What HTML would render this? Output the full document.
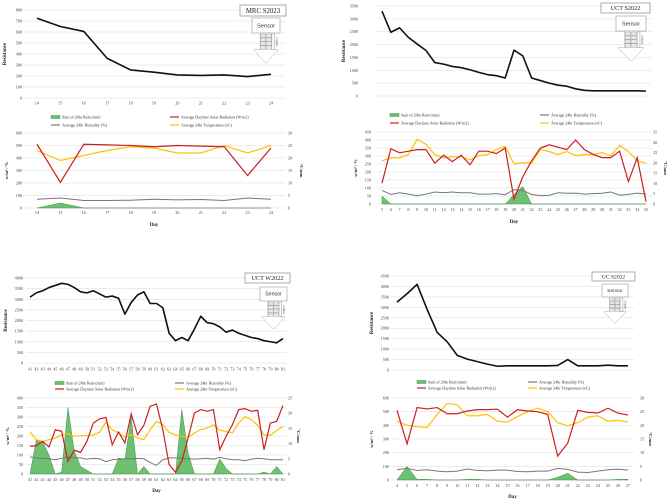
<!DOCTYPE html>
<html><head><meta charset="utf-8"><style>
html,body{margin:0;padding:0;background:#fff;}
svg{display:block;font-family:"Liberation Serif",serif;}
</style></head><body>
<svg id="fig" width="669" height="501" viewBox="0 0 669 501" xmlns="http://www.w3.org/2000/svg"></svg>
<script>
// ---------- DATA ----------
const mrcDays=[14,15,16,17,18,19,20,21,22,23,24];
const mrcRes=[725,650,605,360,255,235,210,205,210,195,215];
const mrcSolar=[510,205,510,505,500,490,500,495,490,260,480];
const mrcTemp=[23,19,21,23,24.5,24,22,22,25,22,25];
const mrcHum=[70,80,60,60,62,70,65,68,60,80,70];
const mrcRain=[0,40,0,0,0,0,0,0,0,0,0];

const s22Days=[5,6,7,8,9,10,11,12,13,14,15,16,17,18,19,20,21,22,23,24,25,26,27,28,29,30,31,32,33,34,35];
const s22Res=[3300,2480,2650,2280,2020,1770,1300,1240,1150,1100,1020,920,830,790,700,1780,1560,700,600,500,420,380,280,220,200,200,200,200,200,200,190];
const s22Solar=[130,345,320,330,340,340,255,305,265,305,245,330,330,315,350,30,170,270,350,370,355,340,400,340,310,290,290,330,140,290,15];
const s22Temp=[21,22.5,22.5,24,31.5,29,24,22.5,23,23,21.5,23.5,24,26.5,28,19.5,20,20,26.5,25.5,24,25.5,23.5,24,24,25,23.5,28.5,25.5,21,19.8];
const s22Hum=[85,60,70,62,52,62,75,70,75,70,70,62,62,65,58,90,85,60,52,55,70,67,68,62,65,67,75,55,60,68,62];
const s22Rain=[50,0,0,0,0,0,0,0,0,0,0,0,0,0,0,60,110,0,0,0,0,0,0,0,0,0,0,0,0,0,0];

const w22Days=[41,42,43,44,45,46,47,48,49,50,51,52,53,54,55,56,57,58,59,60,61,62,63,64,65,66,67,68,69,70,71,72,73,74,75,76,77,78,79,80,81];
const w22Res=[3100,3300,3400,3550,3650,3750,3700,3550,3350,3300,3400,3250,3100,3150,3050,2300,2850,3200,3350,2800,2800,2600,1400,1050,1200,1050,1600,2200,1900,1850,1700,1450,1550,1400,1300,1200,1150,1050,1000,950,1150];
const w22Solar=[146,149,172,142,233,225,67,125,114,172,268,290,298,154,221,163,316,207,256,356,368,233,49,9,67,190,321,339,330,339,128,198,260,339,344,330,335,128,268,277,361];
const w22Temp=[13.8,11.3,10.7,11.3,11.8,12.9,13.3,12.4,12.6,12.6,12.9,13.7,17.1,14.6,13.5,12.1,13,11.8,11.3,14.6,17.3,16.2,13.7,12.9,12.4,12.1,13.5,14.6,15.1,16.2,14.4,14,13.5,16.8,18.8,17.9,16,12.9,12.7,14.3,15.7];
const w22Hum=[90,85,82,80,75,82,90,85,85,78,82,80,65,75,78,80,80,82,80,60,45,75,85,85,82,80,78,80,82,78,88,80,75,75,70,78,82,80,75,75,75];
const w22Rain=[0,180,170,100,0,10,350,120,40,20,0,0,0,0,85,75,300,0,40,0,0,0,0,0,340,110,0,0,0,0,80,30,0,0,0,0,0,10,0,40,0];

const ucDays=[4,5,6,7,8,9,10,11,12,13,14,15,16,17,18,19,20,21,22,23,24,25,26,27];
const ucRes=[3250,3650,4100,2900,1800,1350,700,520,400,280,180,200,200,200,200,200,220,500,200,200,200,230,200,200];
const ucSolar=[510,265,530,520,530,485,485,505,515,515,518,460,515,505,500,480,175,270,510,495,490,525,490,475];
const ucTemp=[21.5,20,19.5,19.2,24,28,27.5,23.5,23.5,24,21.5,21.2,23.2,25,26.3,25,21,19.8,21,23,23.5,21.5,21.8,21.2];
const ucHum=[75,85,70,75,65,60,65,80,70,68,72,72,62,60,65,65,85,78,58,55,65,75,80,72];
const ucRain=[0,100,5,5,0,0,0,5,5,0,0,0,0,0,0,0,20,50,0,0,0,0,5,5];

// ---------- DRAW ----------
const NS="http://www.w3.org/2000/svg";
const svg=document.getElementById('fig');
function mk(tag,attrs,parent,txt){const e=document.createElementNS(NS,tag);for(const k in attrs)e.setAttribute(k,attrs[k]);if(txt!==undefined)e.textContent=txt;(parent||svg).appendChild(e);return e;}

function panel(id,cfg,days,res,solar,temp,hum,rain){
  const g=mk('g',{});
  
  
  const n=days.length;
  const xs=i=>cfg.x0+(cfg.x1-cfg.x0)*i/(n-1);
  const step=(cfg.x1-cfg.x0)/(n-1);
  const gx0=cfg.x0-step*0.6, gx1=cfg.x1+step*0.6;
  const T=cfg.top;
  const yT=v=>T.yBot-(T.yBot-T.yTop)*v/T.max;
  for(let v=0;v<=T.max;v+=T.step){
    const gl=mk('line',{x1:gx0,x2:gx1,y1:yT(v),y2:yT(v),stroke:'#d9d9d9','stroke-width':0.5},g);
    
    
    const t=mk('text',{x:T.labelX,y:yT(v)+1.5,'font-size':4.2,'text-anchor':'end',fill:'#444'},g,String(v));
    
    
  }
  const yl=mk('text',{transform:`translate(${T.titleX},${(T.yTop+T.yBot)/2}) rotate(-90)`,'font-size':5,'font-weight':'bold','text-anchor':'middle',fill:'#222'},g,'Resistance');
  
  
  if(T.xlabY){days.forEach((d,i)=>{const t=mk('text',{x:xs(i),y:T.xlabY,'font-size':4.2,'text-anchor':'middle',fill:'#444'},g,String(d));
    
    });}
  const rl=mk('polyline',{points:res.map((v,i)=>xs(i)+','+yT(v)).join(' '),fill:'none',stroke:'#111','stroke-width':1.6,'stroke-linejoin':'round'},g);
  
  
  const tb=cfg.title;
  const tr=mk('rect',{x:tb.x,y:tb.y,width:tb.w,height:tb.h,fill:'#fff',stroke:'#888','stroke-width':0.7},g);
  
  
  const tt=mk('text',{x:tb.x+tb.w/2,y:tb.y+tb.h*0.72,'font-size':tb.h*0.62,'text-anchor':'middle',fill:'#222'},g,tb.text);
  
  
  const s=cfg.sensor;
  const sr=mk('rect',{x:s.x,y:s.y,width:s.w,height:s.h,fill:'#fff',stroke:'#999','stroke-width':0.6},g);
  
  
  const st=mk('text',{x:s.x+s.w/2,y:s.y+s.h*0.62,'font-size':s.h*0.38,'text-anchor':'middle','font-family':'Liberation Sans, sans-serif',fill:'#333'},g,'Sensor');
  
  
  const cx=s.x+s.w/2, aw=s.w*0.55, gy=s.y+s.h+1, gh=s.h*1.05;
  const ar=mk('polygon',{points:`${cx-aw*0.38},${s.y+s.h} ${cx+aw*0.38},${s.y+s.h} ${cx+aw*0.38},${gy+gh} ${cx+aw*0.8},${gy+gh} ${cx},${gy+gh+s.h*0.9} ${cx-aw*0.8},${gy+gh} ${cx-aw*0.38},${gy+gh}`,fill:'#fff',stroke:'#aaa','stroke-width':0.5},g);
  
  
  for(let r=0;r<4;r++)for(let c=0;c<2;c++){
    const cell=mk('rect',{x:cx-aw*0.36+c*aw*0.36,y:gy+r*gh/4,width:aw*0.34,height:gh/4-0.4,fill:'#e8e8e8',stroke:'#777','stroke-width':0.3},g);
    
    
  }
  mk('path',{d:`M${cx+aw*0.45},${gy} h1.5 v${gh} h-1.5`,fill:'none',stroke:'#777','stroke-width':0.4},g);
  const ct=mk('text',{transform:`translate(${cx+aw*0.45+3},${gy+gh/2}) rotate(90)`,'font-size':2.6,'text-anchor':'middle',fill:'#333'},g,'Contacts');
  
  
  const L=cfg.legend;
  const ents={rain:['Sum of 24hr Rain (mm)','rain'],solar:['Average Daytime Solar Radiation (W/m2)','#cc1f1f'],hum:['Average 24hr Humidity (%)','#777'],temp:['Average 24hr Temperature (oC)','#ffc000']};
  L.order.forEach((k,i)=>{
    const lx=L.xs[i%2], ly=L.ys[Math.floor(i/2)];
    let sym;
    if(k==='rain') sym=mk('rect',{x:lx,y:ly-2.5,width:9,height:3,fill:'#6cc070',stroke:'#2e7d32','stroke-width':0.4},g);
    else sym=mk('line',{x1:lx,x2:lx+9,y1:ly-1,y2:ly-1,stroke:ents[k][1],'stroke-width':1.2},g);
    
    
    const lt=mk('text',{x:lx+11,y:ly+0.5,'font-size':4,fill:'#333'},g,ents[k][0]);
    
    
  });
  const B=cfg.bot;
  const yB=v=>B.yBot-(B.yBot-B.yTop)*v/B.max;
  const yR=v=>B.yBot-(B.yBot-B.yTop)*v/B.rmax;
  for(let v=0;v<=B.max;v+=B.step){
    const gl=mk('line',{x1:gx0,x2:gx1,y1:yB(v),y2:yB(v),stroke:'#d9d9d9','stroke-width':0.5},g);
    
    
    const t=mk('text',{x:B.labelX,y:yB(v)+1.5,'font-size':4.2,'text-anchor':'end',fill:'#444'},g,String(v));
    
    
  }
  for(let v=0;v<=B.rmax;v+=B.rstep){
    const t=mk('text',{x:B.rlabelX,y:yR(v)+1.5,'font-size':4.2,'text-anchor':'start',fill:'#444'},g,String(v));
    
    
  }
  const lt=mk('text',{transform:`translate(${B.titleX},${(B.yTop+B.yBot)/2}) rotate(-90)`,'font-size':4.5,'font-weight':'bold','text-anchor':'middle',fill:'#222'},g,'w/m² / %');
  
  
  const rt=mk('text',{transform:`translate(${B.rtitleX},${(B.yTop+B.yBot)/2}) rotate(90)`,'font-size':4.5,'font-weight':'bold','text-anchor':'middle',fill:'#222'},g,'°C/mm');
  
  
  days.forEach((d,i)=>{const t=mk('text',{x:xs(i),y:B.xlabY,'font-size':4.2,'text-anchor':'middle',fill:'#444'},g,String(d));
    
    });
  const dt=mk('text',{x:(cfg.x0+cfg.x1)/2,y:B.dayY,'font-size':5,'font-weight':'bold','text-anchor':'middle',fill:'#222'},g,'Day');
  
  
  const ra=mk('polygon',{points:xs(0)+','+yB(0)+' '+rain.map((v,i)=>xs(i)+','+yB(v)).join(' ')+' '+xs(n-1)+','+yB(0),fill:'#6cc070',stroke:'#2e7d32','stroke-width':0.4},g);
  
  
  const hl=mk('polyline',{points:hum.map((v,i)=>xs(i)+','+yB(v)).join(' '),fill:'none',stroke:'#777','stroke-width':1},g);
  
  
  const tl=mk('polyline',{points:temp.map((v,i)=>xs(i)+','+yR(v)).join(' '),fill:'none',stroke:'#ffc000','stroke-width':1.2},g);
  
  
  const sl=mk('polyline',{points:solar.map((v,i)=>xs(i)+','+yB(v)).join(' '),fill:'none',stroke:'#cc1f1f','stroke-width':1.2},g);
  
  
}

panel('mrc-s2023',{x0:37,x1:271,
  top:{yTop:10,yBot:98,max:800,step:100,labelX:22,titleX:6,xlabY:104.5},
  title:{x:240,y:5,w:46,h:11,text:'MRC S2023'},
  sensor:{x:252,y:18,w:28,h:15},
  legend:{order:['rain','solar','hum','temp'],xs:[51,170],ys:[118,126]},
  bot:{yTop:133,yBot:208,max:600,step:100,labelX:22,rmax:30,rstep:5,rlabelX:288,titleX:8,rtitleX:300,xlabY:214,dayY:226}
},mrcDays,mrcRes,mrcSolar,mrcTemp,mrcHum,mrcRain);

panel('uct-s2022',{x0:382,x1:646,
  top:{yTop:6,yBot:96,max:3500,step:500,labelX:358,titleX:345,xlabY:0},
  title:{x:601,y:3,w:49,h:10,text:'UCT S2022'},
  sensor:{x:616,y:16,w:30,h:15},
  legend:{order:['rain','hum','solar','temp'],xs:[390,540],ys:[116,124]},
  bot:{yTop:132,yBot:204,max:450,step:50,labelX:371,rmax:35,rstep:5,rlabelX:653,titleX:357,rtitleX:664,xlabY:211,dayY:223}
},s22Days,s22Res,s22Solar,s22Temp,s22Hum,s22Rain);

panel('uct-w2022',{x0:30,x1:283,
  top:{yTop:278,yBot:363,max:4000,step:500,labelX:23,titleX:7,xlabY:370.5},
  title:{x:245,y:273,w:45,h:10,text:'UCT W2022'},
  sensor:{x:260,y:287,w:27,h:14},
  legend:{order:['rain','hum','solar','temp'],xs:[55,175],ys:[384,390]},
  bot:{yTop:398,yBot:474,max:400,step:50,labelX:23,rmax:25,rstep:5,rlabelX:288,titleX:9,rtitleX:297,xlabY:481,dayY:492}
},w22Days,w22Res,w22Solar,w22Temp,w22Hum,w22Rain);

panel('uc-s2022',{x0:397,x1:628,
  top:{yTop:276,yBot:370,max:4500,step:500,labelX:389,titleX:373,xlabY:0},
  title:{x:592,y:272,w:43,h:9,text:'UC S2022'},
  sensor:{x:602,y:284,w:26,h:13},
  legend:{order:['rain','hum','solar','temp'],xs:[417,528],ys:[383,389]},
  bot:{yTop:398,yBot:480,max:600,step:100,labelX:389,rmax:30,rstep:5,rlabelX:640,titleX:373,rtitleX:649,xlabY:487,dayY:498}
},ucDays,ucRes,ucSolar,ucTemp,ucHum,ucRain);
</script>
</body></html>
